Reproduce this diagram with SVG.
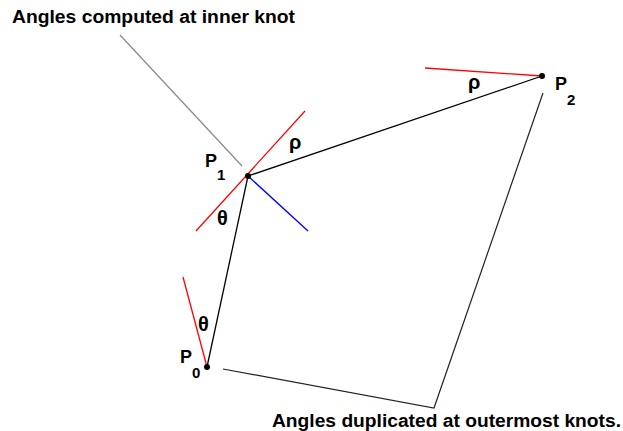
<svg xmlns="http://www.w3.org/2000/svg" width="623" height="431" viewBox="0 0 623 431">
<style>
.lbl{font-family:"Liberation Sans",Arial,sans-serif;font-weight:bold;fill:#000}
.big{font-size:18px}
.p{font-size:18px}
.sub{font-size:15px}
.gr{font-family:"Liberation Sans",Arial,sans-serif;font-size:20px;font-weight:bold;fill:#000}
.edge{stroke:#000;stroke-width:1.3;fill:none}
.lead{stroke:#222;stroke-width:1.2;fill:none}
.tan{stroke:#f00;stroke-width:1.3;fill:none}
</style>
<rect width="623" height="431" fill="#fff"/>
<g id="connectors">
<line class="edge" x1="207" y1="367" x2="248" y2="176"/>
<line class="edge" x1="248" y1="176" x2="542" y2="76"/>
<line x1="120" y1="35" x2="242" y2="166" stroke="#888" stroke-width="1.2"/>
<line class="tan" x1="196" y1="231" x2="305" y2="111"/>
<line x1="248" y1="176" x2="308" y2="231" stroke="#00f" stroke-width="1.3"/>
<line class="tan" x1="183" y1="277" x2="207" y2="367"/>
<line class="tan" x1="425" y1="68" x2="542" y2="76"/>
<polyline class="lead" points="223,369 434,408 543,93"/>
</g>
<g id="P0">
<circle cx="207" cy="367" r="3" fill="#000"/>
<text class="lbl p" x="180" y="363">P<tspan class="sub" dy="15">0</tspan></text>
</g>
<g id="P1">
<circle cx="248" cy="176" r="3" fill="#000"/>
<text class="lbl p" x="205" y="167">P<tspan class="sub" dy="13">1</tspan></text>
</g>
<g id="P2">
<circle cx="542" cy="76" r="3" fill="#000"/>
<text class="lbl p" x="555" y="90">P<tspan class="sub" dy="15">2</tspan></text>
</g>
<g id="angles">
<text class="gr" x="289" y="149">ρ</text>
<text class="gr" x="217" y="225">θ</text>
<text class="gr" x="198" y="331">θ</text>
<text class="gr" x="468" y="89">ρ</text>
</g>
<g id="note-inner">
<text class="lbl big" x="12" y="23" textLength="283" lengthAdjust="spacingAndGlyphs">Angles computed at inner knot</text>
</g>
<g id="note-outer">
<text class="lbl big" x="272" y="427" textLength="349" lengthAdjust="spacingAndGlyphs">Angles duplicated at outermost knots.</text>
</g>
</svg>
